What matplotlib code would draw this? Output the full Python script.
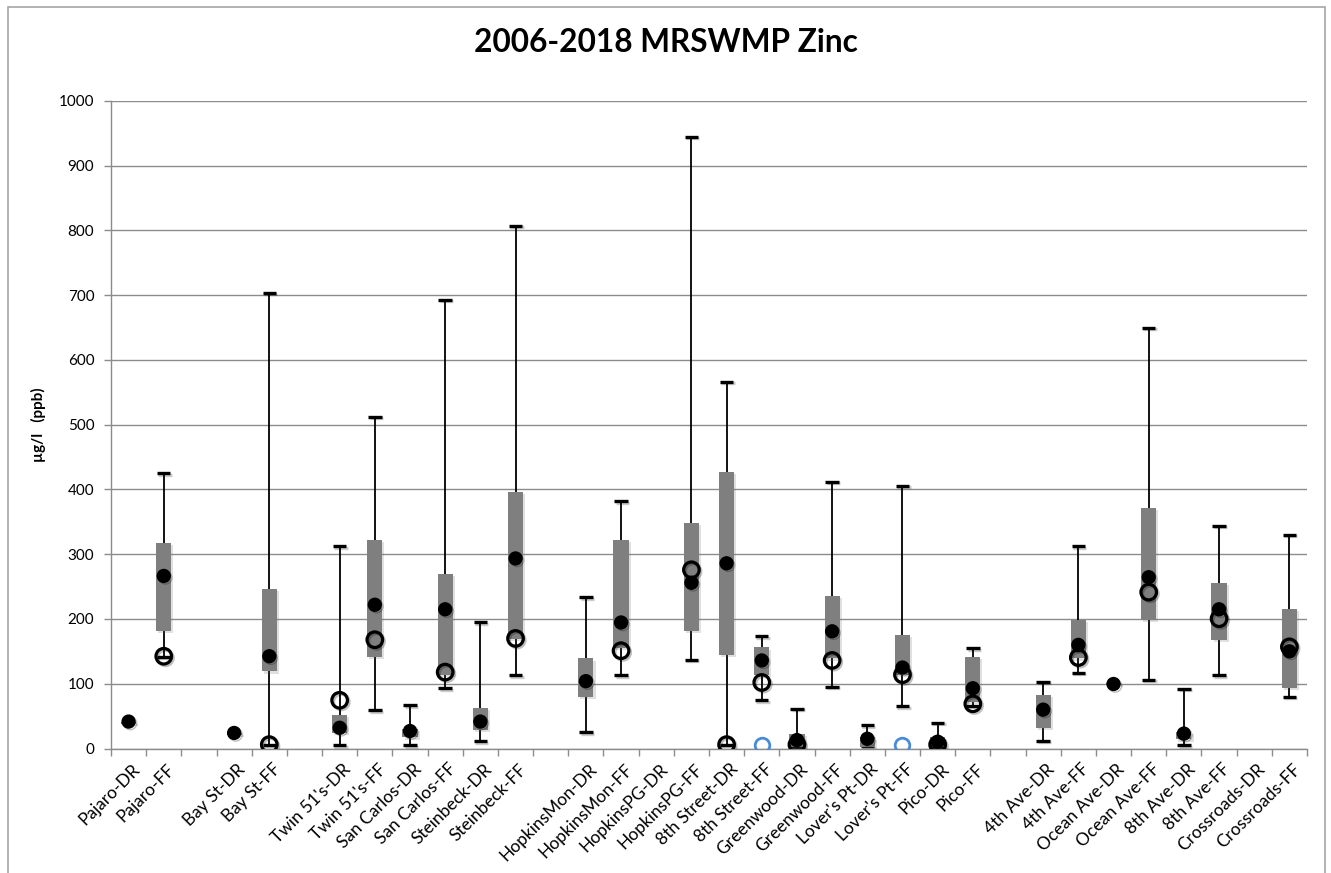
import numpy as np
import matplotlib
matplotlib.use("Agg")
import matplotlib.pyplot as plt
import matplotlib.patheffects as pe
import matplotlib.transforms as mtransforms
from matplotlib.patches import Rectangle

n = np.nan

# Sites (blank entries are spacer slots between site groups)
categories = ["Pajaro-DR", "Pajaro-FF", "", "Bay St-DR", "Bay St-FF", "",
              "Twin 51's-DR", "Twin 51's-FF", "San Carlos-DR", "San Carlos-FF",
              "Steinbeck-DR", "Steinbeck-FF", "",
              "HopkinsMon-DR", "HopkinsMon-FF", "HopkinsPG-DR", "HopkinsPG-FF",
              "8th Street-DR", "8th Street-FF", "Greenwood-DR", "Greenwood-FF",
              "Lover's Pt-DR", "Lover's Pt-FF", "Pico-DR", "Pico-FF", "",
              "4th Ave-DR", "4th Ave-FF", "Ocean Ave-DR", "Ocean Ave-FF",
              "8th Ave-DR", "8th Ave-FF", "Crossroads-DR", "Crossroads-FF"]

# Zinc statistics, ug/l
whisker_low = [n, 142, n, n, 6, n, 5, 59, 5, 93, 11, 113, n, 25, 113, n, 137, 6, 74.5, 3,
               95, 4, 65, 3, 66, n, 12, 117, n, 106, 5, 113, n, 80]
whisker_high = [n, 425, n, n, 704, n, 312, 512, 67, 693, 195, 807, n, 233.5, 382, n, 945,
                566, 173.5, 61, 412, 36, 406, 40, 155, n, 103, 312, n, 650, 92, 344, n, 330.5]
box_low = [38.5, 181, n, 20.5, 119, n, 24, 142, 17, 113, 29, 169, n, 80, 155, n, 182, 144.5,
           113, 3, 139, 3, 113, 2, 72, n, 32, 139, 98, 198.5, 14, 168, n, 94]
box_high = [41.5, 317, n, 23.5, 246, n, 52, 322, 30, 270, 62, 396, n, 139, 322, n, 348, 427,
            156, 22, 236, 17, 175.5, 18, 141, n, 82, 198.5, 101, 371, 26, 256, n, 216]
mean_vals = [41.6, 266.5, n, 24, 142.5, n, 32, 222, 27, 215, 41.6, 293.5, n, 104, 194.6, n,
             256, 286, 136, 13, 181, 15, 125, 10.5, 93, n, 60, 160, 99.6, 264.5, 23, 215, n, 150]
median_vals = [n, 142.5, n, n, 6, n, 74.5, 168, n, 118, n, 170, n, n, 151, n, 276, 6, 102,
               6, 136, n, 114, 6, 69, n, n, 140.5, n, 241.5, n, 200.5, n, 157]
nd_vals = [n, n, n, n, n, n, n, n, n, n, n, n, n, n, n, n, n, n, 6, n, n, n, 6, n, n, n,
           n, n, n, n, n, n, n, n]

y_ticks = [0, 100, 200, 300, 400, 500, 600, 700, 800, 900, 1000]

plt.rcParams["font.family"] = ["Lato", "DejaVu Sans"]

W, H = 1331, 873
fig = plt.figure(figsize=(W / 100, H / 100), dpi=100)
ax = fig.add_axes([111 / W, 1 - 748.5 / H, (1307 - 111) / W, (748.5 - 101) / H])

x = np.arange(len(categories))
grid_col = "#8c8c8c"

# whisker stems and caps
wl = np.array(whisker_low, float)
wh = np.array(whisker_high, float)
ok = ~np.isnan(wl) & ~np.isnan(wh)
ax.vlines(x[ok], wl[ok], wh[ok], color="black", lw=1.3, zorder=2)
cap_w = 0.19
for arr in (wl, wh):
    m = ~np.isnan(arr)
    ax.hlines(arr[m], x[m] - cap_w, x[m] + cap_w, color="black", lw=2.4, zorder=2.5,
              path_effects=[pe.SimpleLineShadow(offset=(1.0, -1.0), alpha=0.2), pe.Normal()])

# interquartile boxes
bl = np.array(box_low, float)
bh = np.array(box_high, float)
m = ~np.isnan(bl)
ax.bar(x[m], bh[m] - bl[m], bottom=bl[m], width=0.43, color="#7f7f7f", zorder=3,
       path_effects=[pe.SimplePatchShadow(offset=(1.5, -1.5), shadow_rgbFace="#666666", alpha=0.2),
                     pe.Normal()])

shadow = [pe.SimpleLineShadow(offset=(1.2, -1.2), alpha=0.25), pe.Normal()]
ax.plot(x, mean_vals, ls="none", marker="o", ms=9.3, mfc="black", mec="black", zorder=5,
        path_effects=shadow)
ax.plot(x, median_vals, ls="none", marker="o", ms=11.2, mfc="none", mec="black", mew=2.3,
        zorder=6, path_effects=shadow)
ax.plot(x, nd_vals, ls="none", marker="o", ms=10.5, mfc="none", mec="#4a8bd6", mew=2.0,
        zorder=6)

ax.set_xlim(-0.5, len(categories) - 0.5)
ax.set_ylim(0, 1000)
ax.set_yticks(y_ticks)
ax.set_yticklabels([str(v) for v in y_ticks], fontsize=11)
ax.yaxis.grid(True, color=grid_col, lw=1.0)
ax.set_axisbelow(True)

ax.set_xticks(x)
ax.set_xticklabels(categories, rotation=45, ha="right", va="top",
                   rotation_mode="anchor", fontsize=12.5)
ax.tick_params(axis="x", length=0, pad=9)
shift = mtransforms.ScaledTranslation(3 / 100, 0, fig.dpi_scale_trans)
for lbl in ax.get_xticklabels():
    lbl.set_transform(lbl.get_transform() + shift)
ax.set_xticks(np.arange(len(categories) + 1) - 0.5, minor=True)
ax.tick_params(axis="x", which="minor", length=5, color=grid_col, width=1)
ax.tick_params(axis="y", length=5, color=grid_col, width=1, pad=7)

for s in ("top", "right"):
    ax.spines[s].set_visible(False)
for s in ("left", "bottom"):
    ax.spines[s].set_color(grid_col)
    ax.spines[s].set_linewidth(1.0)

ax.set_ylabel("µg/l   (ppb)", fontsize=11, fontweight="bold")
ax.yaxis.set_label_coords(-(111 - 46) / (1307 - 111), 0.5)

fig.text(0.5, 1 - 42 / H, "2006-2018 MRSWMP Zinc", ha="center", va="center",
         fontsize=22.8, fontweight="bold")

# chart frame
fig.patches.append(Rectangle((7.5 / W, -0.05), (1325 - 7.5) / W, 1.05 - 7.5 / H,
                             transform=fig.transFigure, fill=False,
                             edgecolor="#a6a6a6", lw=1.2))

fig.savefig("out.png", dpi=100)
